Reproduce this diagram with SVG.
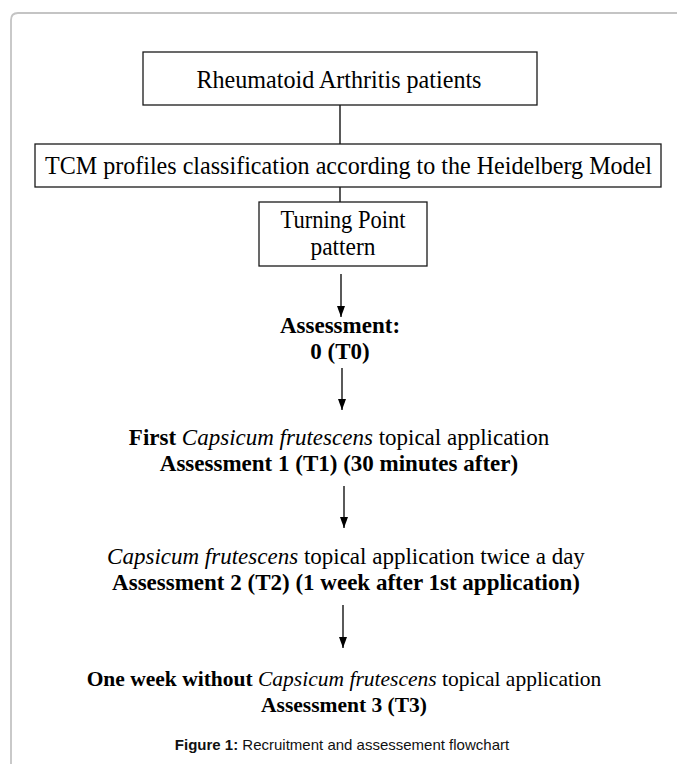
<svg xmlns="http://www.w3.org/2000/svg" width="677" height="764" viewBox="0 0 677 764">
<style>
.frame{fill:none;stroke:#c4c4c4;stroke-width:1.8}
.box{fill:#fff;stroke:#1a1a1a;stroke-width:1.3}
.ln{fill:none;stroke:#000;stroke-width:1.3}
.t{font-family:"Liberation Serif","Times New Roman",serif;font-size:23px;fill:#000;text-anchor:middle}
.bx{font-size:25px}
.sm{font-size:21.5px}
.b{font-weight:bold}
.i{font-style:italic}
.cap{font-family:"Liberation Sans",Arial,sans-serif;font-size:15px;fill:#111;text-anchor:middle}
</style>
<defs>
<marker id="ah" viewBox="0 0 11 8" refX="11" refY="4" markerWidth="11" markerHeight="8" markerUnits="userSpaceOnUse" orient="auto">
<path d="M0,0 L11,4 L0,8 z" fill="#000"/>
</marker>
</defs>
<rect width="677" height="764" fill="#fff"/>
<path class="frame" d="M11,764 V20 Q11,13 18,13 H677"/>

<g id="connectors">
<line class="ln" x1="340" y1="105" x2="340" y2="144"/>
<line class="ln" x1="340" y1="187" x2="340" y2="202"/>
<line class="ln" x1="341" y1="274" x2="341" y2="317" marker-end="url(#ah)"/>
<line class="ln" x1="342" y1="368" x2="342" y2="410" marker-end="url(#ah)"/>
<line class="ln" x1="344" y1="486" x2="344" y2="528" marker-end="url(#ah)"/>
<line class="ln" x1="343" y1="605" x2="343" y2="648" marker-end="url(#ah)"/>
</g>

<g id="node-ra">
<rect class="box" x="143" y="52" width="394" height="53"/>
<text class="t bx" x="339" y="88" textLength="285" lengthAdjust="spacingAndGlyphs">Rheumatoid Arthritis patients</text>
</g>

<g id="node-tcm">
<rect class="box" x="35" y="144" width="626" height="43"/>
<text class="t bx" x="348.5" y="174" textLength="607" lengthAdjust="spacingAndGlyphs">TCM profiles classification according to the Heidelberg Model</text>
</g>

<g id="node-tp">
<rect class="box" x="259" y="202" width="168" height="64"/>
<text class="t bx" x="343" y="228" textLength="125" lengthAdjust="spacingAndGlyphs">Turning Point</text>
<text class="t bx" x="343" y="255" textLength="65" lengthAdjust="spacingAndGlyphs">pattern</text>
</g>

<g id="node-t0">
<text class="t b" x="340" y="333">Assessment:</text>
<text class="t b" x="340" y="359">0 (T0)</text>
</g>

<g id="node-t1">
<text class="t" x="339" y="445"><tspan class="b">First </tspan><tspan class="i">Capsicum frutescens</tspan> topical application</text>
<text class="t b" x="339" y="471">Assessment 1 (T1) (30 minutes after)</text>
</g>

<g id="node-t2">
<text class="t" x="346" y="564"><tspan class="i">Capsicum frutescens</tspan> topical application twice a day</text>
<text class="t b" x="346" y="590">Assessment 2 (T2) (1 week after 1st application)</text>
</g>

<g id="node-t3">
<text class="t sm" x="344" y="686"><tspan class="b">One week without </tspan><tspan class="i">Capsicum frutescens</tspan> topical application</text>
<text class="t b sm" x="344" y="712">Assessment 3 (T3)</text>
</g>

<text class="cap" x="342" y="750"><tspan font-weight="bold">Figure 1:</tspan> Recruitment and assessement flowchart</text>
</svg>
